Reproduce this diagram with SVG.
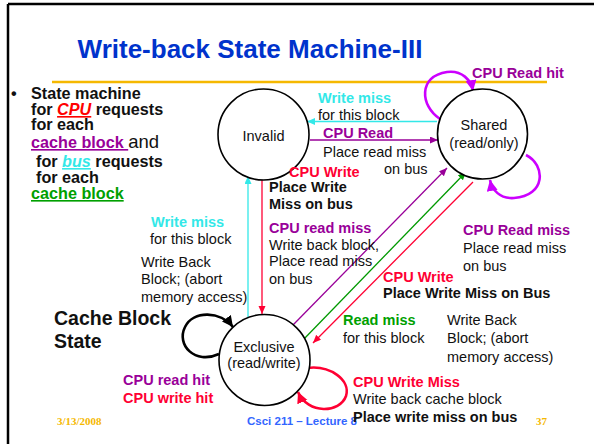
<svg xmlns="http://www.w3.org/2000/svg" width="594" height="444" viewBox="0 0 594 444">
<style>
text{font-family:"Liberation Sans",Arial,sans-serif;font-size:14.5px;fill:#111}
.b{font-weight:bold}
.bl{font-weight:bold;font-size:16.2px}
.pu{fill:#990099;font-weight:bold}
.rd{fill:#ff0033;font-weight:bold}
.cy{fill:#33e8e8;font-weight:bold}
.gr{fill:#00a000;font-weight:bold}
.node{fill:#fff;stroke:#000;stroke-width:1.6}
.ln{fill:none;stroke-width:1.3}
.lp{fill:none;stroke-width:2.6}
.ft{font-family:"Liberation Serif","Times New Roman",serif;font-weight:bold;font-size:11px;fill:#f5b800}
</style>
<defs>
<marker id="aC" markerUnits="userSpaceOnUse" markerWidth="10" markerHeight="8" refX="8" refY="3.5" orient="auto"><path d="M0,0 L8,3.5 L0,7 Z" fill="#33e8e8"/></marker>
<marker id="aP" markerUnits="userSpaceOnUse" markerWidth="10" markerHeight="8" refX="8" refY="3.5" orient="auto"><path d="M0,0 L8,3.5 L0,7 Z" fill="#990099"/></marker>
<marker id="aR" markerUnits="userSpaceOnUse" markerWidth="10" markerHeight="8" refX="8" refY="3.5" orient="auto"><path d="M0,0 L8,3.5 L0,7 Z" fill="#ff0033"/></marker>
<marker id="aG" markerUnits="userSpaceOnUse" markerWidth="10" markerHeight="8" refX="8" refY="3.5" orient="auto"><path d="M0,0 L8,3.5 L0,7 Z" fill="#009900"/></marker>
<marker id="bM" markerUnits="userSpaceOnUse" markerWidth="13" markerHeight="12" refX="11" refY="5.5" orient="auto"><path d="M0,0 L11,5.5 L0,11 Z" fill="#cc00ff"/></marker>
<marker id="bK" markerUnits="userSpaceOnUse" markerWidth="13" markerHeight="12" refX="11" refY="5.5" orient="auto"><path d="M0,0 L11,5.5 L0,11 Z" fill="#000"/></marker>
<marker id="bR" markerUnits="userSpaceOnUse" markerWidth="13" markerHeight="12" refX="11" refY="5.5" orient="auto"><path d="M0,0 L11,5.5 L0,11 Z" fill="#ff0033"/></marker>
</defs>
<rect width="594" height="444" fill="#fff"/>
<g id="frame">
<line x1="8" y1="4" x2="594" y2="4" stroke="#000" stroke-width="2.5"/>
<line x1="8" y1="4" x2="8" y2="444" stroke="#000" stroke-width="2.5"/>
<line x1="52" y1="82" x2="547" y2="82" stroke="#f5b800" stroke-width="2.5"/>
</g>
<text x="250" y="58" text-anchor="middle" style="font-size:26px;font-weight:bold;fill:#0033cc">Write-back State Machine-III</text>
<g id="bullet">
<text x="11" y="99" class="bl">•</text>
<text x="31" y="99" class="bl">State machine</text>
<text x="31" y="115" class="bl">for <tspan style="fill:#ff0000;font-style:italic" text-decoration="underline">CPU</tspan> requests</text>
<text x="31" y="130" class="bl">for each</text>
<text x="31" y="148" class="bl"><tspan style="fill:#990099" text-decoration="underline">cache block </tspan><tspan style="font-weight:normal;font-size:18.5px">and</tspan></text>
<text x="36" y="167" class="bl">for <tspan style="fill:#33e8e8;font-style:italic" text-decoration="underline">bus</tspan> requests</text>
<text x="36" y="183" class="bl">for each</text>
<text x="31" y="199" class="bl" style="fill:#00a000" text-decoration="underline">cache block</text>
</g>
<g id="connectors">
<path class="ln" stroke="#33e8e8" d="M437,121.5 L307,121.5" marker-end="url(#aC)"/>
<path class="ln" stroke="#990099" d="M310,140 L438,140" marker-end="url(#aP)"/>
<path class="ln" stroke="#33e8e8" d="M248,317 L248,176" marker-end="url(#aC)"/>
<path class="ln" stroke="#ff0033" d="M262,180 L262,314" marker-end="url(#aR)"/>
<path class="ln" stroke="#990099" d="M293,325 L447,168" marker-end="url(#aP)"/>
<path class="ln" stroke="#009900" d="M303,340 L466,172" marker-end="url(#aG)"/>
<path class="ln" stroke="#ff0033" d="M473,182 L313,343" marker-end="url(#aR)"/>
<path class="lp" stroke="#cc00ff" d="M440,119 C420,106 418,76 447,72 C462,70 471,80 473,91" marker-end="url(#bM)"/>
<path class="lp" stroke="#cc00ff" d="M526,155 C546,165 546,196 514,198 C500,199 492,190 490,180" marker-end="url(#bM)"/>
<path class="lp" stroke="#000" d="M219,354 C195,365 176,345 185,327 C193,310 221,311 233,327" marker-end="url(#bK)"/>
<path class="lp" stroke="#ff0033" d="M307,368 C330,365 351,380 346,396 C340,413 308,415 298,392" marker-end="url(#bR)"/>
</g>
<g id="invalid">
<circle class="node" cx="263.5" cy="134.5" r="45.5"/>
<text x="263.5" y="141" text-anchor="middle">Invalid</text>
</g>
<g id="shared">
<circle class="node" cx="482.5" cy="134" r="45"/>
<text x="484" y="130" text-anchor="middle">Shared</text>
<text x="484" y="148" text-anchor="middle">(read/only)</text>
</g>
<g id="exclusive">
<circle class="node" cx="264.5" cy="360" r="45.5"/>
<text x="264" y="352" text-anchor="middle">Exclusive</text>
<text x="264" y="368" text-anchor="middle">(read/write)</text>
</g>
<g id="labels">
<text x="472" y="78" class="pu">CPU Read hit</text>
<text x="318" y="103" class="cy">Write miss</text>
<text x="318" y="120">for this block</text>
<text x="323" y="138" class="pu">CPU Read</text>
<text x="323" y="157">Place read miss</text>
<text x="384" y="174">on bus</text>
<text x="289" y="177" class="rd">CPU Write</text>
<text x="269" y="192" class="b">Place Write</text>
<text x="269" y="209" class="b">Miss on bus</text>
<text x="269" y="233" class="pu">CPU read miss</text>
<text x="269" y="250">Write back block,</text>
<text x="269" y="266">Place read miss</text>
<text x="269" y="284">on bus</text>
<text x="151" y="227" class="cy">Write miss</text>
<text x="150" y="244">for this block</text>
<text x="141" y="267">Write Back</text>
<text x="141" y="284">Block; (abort</text>
<text x="141" y="302">memory access)</text>
<text x="54" y="325" style="font-weight:bold;font-size:19.5px">Cache Block</text>
<text x="54" y="348" style="font-weight:bold;font-size:19.5px">State</text>
<text x="123" y="385" class="pu">CPU read hit</text>
<text x="123" y="403" class="rd">CPU write hit</text>
<text x="463" y="235" class="pu">CPU Read miss</text>
<text x="463" y="253">Place read miss</text>
<text x="463" y="271">on bus</text>
<text x="383" y="282" class="rd">CPU Write</text>
<text x="383" y="298" class="b">Place Write Miss on Bus</text>
<text x="343" y="325" class="gr">Read miss</text>
<text x="343" y="343">for this block</text>
<text x="447" y="325">Write Back</text>
<text x="447" y="343">Block; (abort</text>
<text x="447" y="362">memory access)</text>
<text x="353" y="387" class="rd">CPU Write Miss</text>
<text x="353" y="404">Write back cache block</text>
</g>
<g id="footer">
<text x="57" y="425" class="ft">3/13/2008</text>
<text x="247" y="425" style="font-weight:bold;font-size:11.5px;fill:#3366ff">Csci 211 – Lecture 8</text>
<text x="536" y="425" class="ft">37</text>
<text x="353" y="422" class="b">Place write miss on bus</text>
</g>
</svg>
